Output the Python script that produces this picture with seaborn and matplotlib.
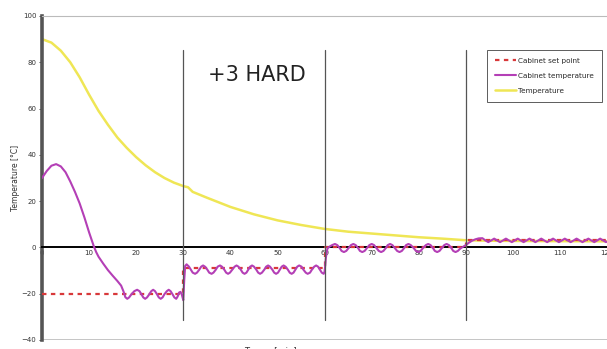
import numpy as np
import pandas as pd
import seaborn as sns
import matplotlib
matplotlib.use("Agg")
import matplotlib.pyplot as plt

# Temperature (yellow)
temp_time = [0, 2, 4, 6, 8, 10, 12, 14, 16, 18, 20, 22, 24, 26, 28, 30, 31, 32, 35,
             40, 45, 50, 55, 60, 65, 70, 75, 80, 85, 90, 95, 100, 110, 125]
temp_val = [90, 88.5, 85, 80, 73.5, 66, 59, 53, 47.5, 43, 39, 35.5, 32.5, 30, 28,
            26.5, 26, 24, 21.5, 17.5, 14.3, 11.7, 9.7, 8, 6.8, 6, 5.2, 4.4, 3.8,
            3.1, 2.9, 2.8, 2.7, 2.6]

# Cabinet set point (steps)
set_time = [0, 30, 30, 60, 60, 90, 90, 125]
set_val = [-20, -20, -9, -9, 0, 0, 3, 3]

# Cabinet temperature (magenta), read piece by piece
cab_time_1 = [0, 1, 2, 3, 4, 5, 6, 7, 8, 9, 10, 11, 11.5, 12, 13, 14, 15, 16, 16.8,
              17.3, 17.7, 18.1, 18.5, 19, 19.6, 20.2, 20.7, 21.1, 21.5, 21.9, 22.3,
              22.8, 23.2, 23.6, 24.0, 24.4, 24.8, 25.2, 25.6, 26.0, 26.5, 26.9, 27.3,
              27.7, 28.1, 28.5, 28.8, 29.1, 29.4, 29.7, 30.0]
cab_val_1 = [30, 33, 35.3, 36, 35, 32.5, 28.5, 24, 19, 13, 6.5, 0.5, -2, -4, -7, -9.8,
             -12.2, -14.5, -16.5, -19, -21.5, -22.2, -21.6, -20.2, -18.9, -18.3, -18.9,
             -20.2, -21.6, -22.2, -21.6, -20.2, -18.9, -18.3, -18.9, -20.2, -21.6,
             -22.2, -21.6, -20.2, -18.9, -18.3, -18.9, -20.2, -21.6, -22.2, -21.2,
             -19.5, -19.2, -20.5, -22.8]

cab_time_2 = [30.2, 30.4, 30.7, 31.2, 31.6, 32.0, 32.5, 32.9, 33.4, 33.8, 34.2, 34.6,
              35.1, 35.5, 36.0, 36.4, 36.9, 37.3, 37.8, 38.2, 38.7, 39.1, 39.5, 39.9,
              40.4, 40.9, 41.3, 41.7, 42.2, 42.6, 43.0, 43.4, 43.8, 44.2, 44.6, 45.0,
              45.5, 45.9, 46.3, 46.7, 47.2, 47.6, 48.0, 48.4, 48.9, 49.3, 49.7, 50.1,
              50.5, 50.9, 51.3, 51.7, 52.2, 52.6, 53.0, 53.4, 53.8, 54.2, 54.6, 55.1,
              55.5, 56.0, 56.4, 56.9, 57.3, 57.8, 58.2, 58.6, 59.0, 59.4, 59.8, 60.0]
cab_val_2 = [-14, -8, -7.3, -8.3, -9.6, -10.9, -11.4, -10.9, -9.6, -8.3, -7.8, -8.3,
             -9.6, -10.9, -11.4, -10.9, -9.6, -8.3, -7.8, -8.3, -9.6, -10.9, -11.4,
             -10.9, -9.6, -8.3, -7.8, -8.3, -9.6, -10.9, -11.4, -10.9, -9.6, -8.3,
             -7.8, -8.3, -9.6, -10.9, -11.4, -10.9, -9.6, -8.3, -7.8, -8.3, -9.6,
             -10.9, -11.4, -10.9, -9.6, -8.3, -7.8, -8.3, -9.6, -10.9, -11.4, -10.9,
             -9.6, -8.3, -7.8, -8.3, -9.6, -10.9, -11.4, -10.9, -9.6, -8.3, -7.8,
             -8.3, -9.6, -10.9, -11.4, -10.5]

cab_time_3 = [60.3, 60.6, 61.0, 61.6, 62.2, 62.7, 63.2, 63.6, 64.1, 64.6, 65.1, 65.6,
              66.1, 66.6, 67.1, 67.5, 68.0, 68.5, 69.0, 69.5, 70.0, 70.5, 71.0, 71.5,
              72.0, 72.5, 73.0, 73.4, 73.9, 74.4, 74.9, 75.4, 75.9, 76.4, 76.9, 77.3,
              77.8, 78.3, 78.9, 79.4, 79.9, 80.4, 80.9, 81.5, 82.0, 82.5, 83.0, 83.4,
              83.9, 84.4, 84.9, 85.4, 85.9, 86.4, 86.9, 87.3, 87.8, 88.3, 88.8, 89.4,
              90.0]
cab_val_3 = [-4, -0.5, 0.3, 1.0, 1.5, 1.0, -0.25, -1.5, -2, -1.5, -0.25, 1.0, 1.5, 1.0,
             -0.25, -1.5, -2, -1.5, -0.25, 1.0, 1.5, 1.0, -0.25, -1.5, -2, -1.5, -0.25,
             1.0, 1.5, 1.0, -0.25, -1.5, -2, -1.5, -0.25, 1.0, 1.5, 1.0, -0.25, -1.5,
             -2, -1.5, -0.25, 1.0, 1.5, 1.0, -0.25, -1.5, -2, -1.5, -0.25, 1.0, 1.5,
             1.0, -0.25, -1.5, -2, -1.5, -0.5, 0.3, 1.0]

cab_time_4 = [90.6, 91.3, 92.0, 92.7, 93.5, 94.1, 94.75, 95.4, 96.0, 96.6, 97.25, 97.9,
              98.5, 99.1, 99.75, 100.4, 101.0, 101.6, 102.25, 102.9, 103.5, 104.1,
              104.75, 105.4, 106.0, 106.6, 107.25, 107.9, 108.5, 109.1, 109.75, 110.4,
              111.0, 111.6, 112.25, 112.9, 113.5, 114.1, 114.75, 115.4, 116.0, 116.6,
              117.25, 117.9, 118.5, 119.1, 119.75, 120.4, 121.0, 121.6, 122.25, 122.9,
              123.5, 124.1, 125]
cab_val_4 = [2.0, 2.9, 3.5, 3.9, 4.0, 3.1, 2.3, 3.05, 3.8, 3.05, 2.3, 3.05, 3.8, 3.05,
             2.3, 3.05, 3.8, 3.05, 2.3, 3.05, 3.8, 3.05, 2.3, 3.05, 3.8, 3.05, 2.3,
             3.05, 3.8, 3.05, 2.3, 3.05, 3.8, 3.05, 2.3, 3.05, 3.8, 3.05, 2.3, 3.05,
             3.8, 3.05, 2.3, 3.05, 3.8, 3.05, 2.3, 3.05, 3.8, 3.05, 2.3, 3.05, 3.8,
             3.05, 2.3]

cab_time = cab_time_1 + cab_time_2 + cab_time_3 + cab_time_4
cab_val = cab_val_1 + cab_val_2 + cab_val_3 + cab_val_4

x_ticks = [0, 10, 20, 30, 40, 50, 60, 70, 80, 90, 100, 110, 120]
y_ticks = [-40, -20, 0, 20, 40, 60, 80, 100]
phase_lines = [30, 60, 90]

sns.set_style("white")
plt.rcParams['font.family'] = ['DejaVu Sans']

W, H = 607, 349
fig = plt.figure(figsize=(W / 100, H / 100), dpi=100)
# x=0 at px 42, 4.71 px per minute; y=100 at px 16, y=-40 at px 340
x_max = 125
ax = fig.add_axes([42 / W, (H - 340) / H, x_max * 4.71 / W, (340 - 16) / H])

df_set = pd.DataFrame({"t": set_time, "v": set_val})
df_cab = pd.DataFrame({"t": cab_time, "v": cab_val})
df_tmp = pd.DataFrame({"t": temp_time, "v": temp_val})

sns.lineplot(data=df_tmp, x="t", y="v", ax=ax, color="#efe655", lw=1.8,
             estimator=None, sort=False, label="Temperature", zorder=2)
sns.lineplot(data=df_cab, x="t", y="v", ax=ax, color="#b43fb6", lw=1.5,
             estimator=None, sort=False, label="Cabinet temperature", zorder=4)
sns.lineplot(data=df_set, x="t", y="v", ax=ax, color="#d8383a", lw=1.6,
             estimator=None, sort=False, label="Cabinet set point", zorder=3,
             dashes=False, linestyle=(0, (2, 2)))
handles, labels = ax.get_legend_handles_labels()
if ax.get_legend() is not None:
    ax.get_legend().remove()

for xv in phase_lines:
    ax.plot([xv, xv], [-31.5, 85.5], color="#555555", lw=0.9, zorder=5)

ax.set_xlim(0, x_max)
ax.set_ylim(-40, 100)
ax.set_xticks(x_ticks)
ax.set_yticks(y_ticks)
ax.set_xlabel("")
ax.set_ylabel("Temperature [°C]", fontsize=5.5, labelpad=1, color="#333333")

ax.spines['bottom'].set_position(('data', 0))
ax.spines['bottom'].set_color("black")
ax.spines['bottom'].set_linewidth(1.4)
ax.spines['left'].set_color("#555555")
ax.spines['left'].set_linewidth(2.6)
ax.spines['top'].set_color("#bbbbbb")
ax.spines['top'].set_linewidth(0.8)
ax.spines['right'].set_visible(False)
ax.axhline(-40, color="#bbbbbb", lw=1.2, zorder=1)

ax.tick_params(axis='x', labelsize=5, length=2, width=0.6, pad=2, colors="#333333",
               direction='in')
ax.tick_params(axis='y', labelsize=5, length=2, width=0.6, pad=2, colors="#333333",
               left=True)

ax.text(35.2, 72, "+3 HARD", fontsize=15, color="#222222", ha="left",
        va="baseline", zorder=6)

order = [2, 1, 0]
leg = fig.legend([handles[i] for i in order], [labels[i] for i in order],
                 loc="upper left", bbox_to_anchor=(483 / W, 1 - 46 / H),
                 fontsize=5.2, frameon=True, fancybox=False, handlelength=3,
                 borderpad=1.1, labelspacing=1.25, handletextpad=0.3)
leg.get_frame().set_edgecolor("#333333")
leg.get_frame().set_linewidth(0.7)

fig.text(270 / W, -2 / H, "Tempo [min]", fontsize=6, ha="center", va="center",
         color="#333333")

fig.savefig("out.png", dpi=100)
